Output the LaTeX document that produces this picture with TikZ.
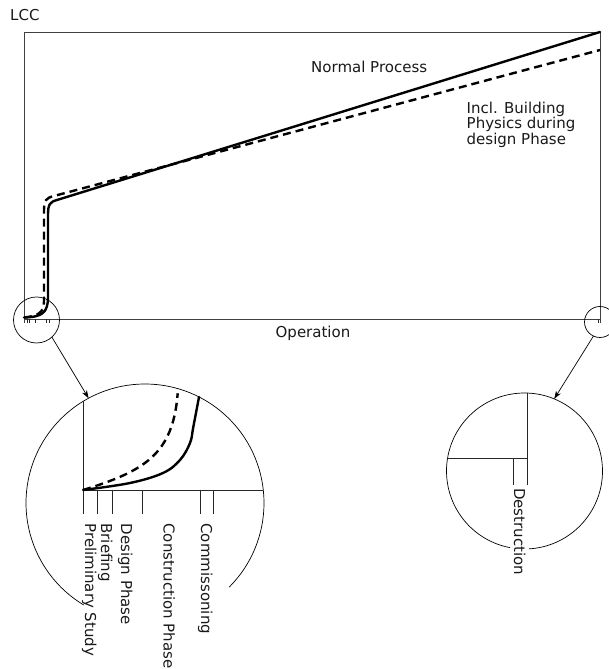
\documentclass[tikz,border=0pt]{standalone}
\usepackage{fontspec}
\setmainfont{DejaVu Sans}
\usetikzlibrary{arrows.meta}
\begin{document}
\begin{tikzpicture}[x=1pt,y=1pt,
  frame/.style={draw=black!75,line width=0.9pt},
  fine/.style={draw=black!85,line width=0.8pt},
  lens/.style={circle,draw=black,line width=0.7pt,inner sep=0pt,outer sep=0pt},
  normal/.style={line width=2.4pt,line cap=round,line join=round},
  physics/.style={line width=2.4pt,dash pattern=on 8pt off 5pt},
  pointer/.style={line width=0.7pt,-{Stealth[length=8pt,width=5.5pt]}},
  lbl/.style={font=\fontsize{15}{15.5}\selectfont,text=black!90,inner sep=0pt},
  ticklbl/.style={lbl,rotate=-90,anchor=base west}
]
\clip (0,0) rectangle (609,669);

% ---- main LCC chart ----
\node[lbl,anchor=base west] (lcc) at (10,648) {LCC};
\draw[frame] (24,346) -- (24,637) -- (600,637) -- (600,346);
\draw[frame] (24,350) -- (600,350);
\foreach \t in {26.9,29.7,35.3,46.3,49,598}
  \draw[fine,line width=0.6pt] (\t,350) -- (\t,346);
\node[lbl,anchor=base] (operation) at (313,331) {Operation};

% cost curves
\draw[normal] (24,351.5) .. controls (42,352) and (48,356) .. (48,372)
  -- (48,454) .. controls (48,465) and (50,467) .. (57,469) -- (600,637);
\draw[physics] (24,351.5) .. controls (38,353) and (44,356) .. (44,368)
  -- (44,458) .. controls (44,469) and (46,471) .. (54,473) -- (600,619);

\node[lbl,anchor=base west] (normalproc) at (311,596.3) {Normal Process};
\node[lbl,anchor=base west] (incl1) at (466.5,555.7) {Incl. Building};
\node[lbl,anchor=base west] (incl2) at (466.5,540.2) {Physics during};
\node[lbl,anchor=base west] (incl3) at (466.5,524.7) {design Phase};

% ---- magnifier lenses ----
\node[lens,minimum size=46pt] (zoomL) at (36.5,349) {};
\node[lens,minimum size=31pt] (zoomR) at (600,347) {};

\coordinate (bigL) at (145,166);
\coordinate (bigR) at (524.5,198);
\path (bigL) ++(118.3:119) coordinate (tipL);
\path (bigR) ++(67.6:78) coordinate (tipR);

\draw[pointer] (zoomL.-48) -- (tipL);
\draw[pointer] (zoomR.-115) -- (tipR);

% ---- left detail: early phases ----
\draw[line width=0.7pt] (bigL) ++(-45:119) arc[start angle=-45,end angle=239,radius=119];
\draw[fine] (83,267.6) -- (83,155);
\draw[fine] (83,179) -- (263.3,179);
\foreach \t in {97,112,142,200,213.5}
  \draw[fine] (\t,179) -- (\t,155);

\draw[normal] plot[smooth,tension=0.6] coordinates
  {(83,179) (130,186) (163,196) (180,209) (190,226) (193.3,242) (199,272)};
\draw[physics] (83,179) .. controls (145,198) and (173,215) .. (177.7,275.7);

\node[ticklbl] (prelim) at (85,145.7) {Preliminary Study};
\node[ticklbl] (brief) at (101,145.7) {Briefing};
\node[ticklbl] (design) at (121,145.7) {Design Phase};
\node[ticklbl] (constr) at (163.5,145.7) {Construction Phase};
\node[ticklbl] (commis) at (201,145.7) {Commissoning};

% ---- right detail: end of life ----
\draw[line width=0.7pt] (bigR) ++(273.3:78) arc[start angle=273.3,end angle=619.3,radius=78];
\draw[fine] (527,276) -- (527,184);
\draw[fine] (447.6,211) -- (527,211);
\draw[fine] (513,211) -- (513,184);
\node[ticklbl] (destr) at (514,181) {Destruction};
\end{tikzpicture}
\end{document}
